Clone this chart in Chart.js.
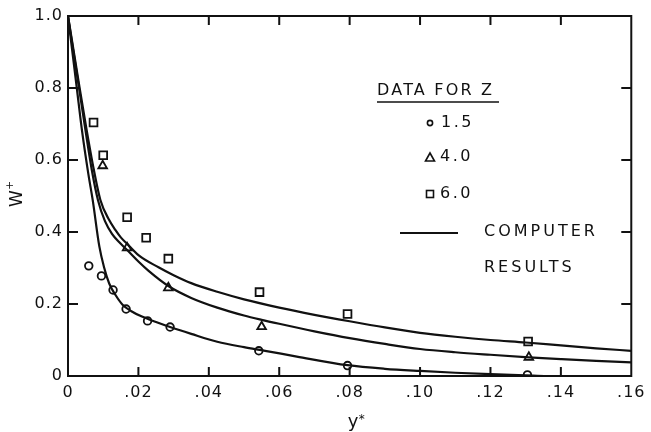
<!DOCTYPE html>
<html><head><meta charset="utf-8">
<script src="https://cdn.jsdelivr.net/npm/chart.js@4/dist/chart.umd.min.js"></script>
<style>html,body{margin:0;padding:0;background:#fff;}#wrap{width:651px;height:432px;}</style>
</head><body><div id="wrap"><canvas id="c" width="651" height="432"></canvas></div>
<script>
// ---- tick values / labels ----
const xTickValues = [0, 0.02, 0.04, 0.06, 0.08, 0.10, 0.12, 0.14, 0.16];
const xTickLabels = ['0', '.02', '.04', '.06', '.08', '.10', '.12', '.14', '.16'];
const yTickValues = [0, 0.2, 0.4, 0.6, 0.8, 1.0];
const yTickLabels = ['0', '0.2', '0.4', '0.6', '0.8', '1.0'];

// ---- measured data (Z = 1.5, 4.0, 6.0) ----
const z15X = [0.0059, 0.0095, 0.0128, 0.0165, 0.0226, 0.0290, 0.0542, 0.0794, 0.1305];
const z15Y = [0.306, 0.278, 0.239, 0.186, 0.153, 0.136, 0.070, 0.029, 0.003];
const z40X = [0.00985, 0.0168, 0.0285, 0.0550, 0.1309];
const z40Y = [0.584, 0.356, 0.245, 0.137, 0.052];
const z60X = [0.00725, 0.0100, 0.0168, 0.0222, 0.0285, 0.0544, 0.0794, 0.1307];
const z60Y = [0.704, 0.613, 0.441, 0.384, 0.326, 0.233, 0.172, 0.096];

// ---- computer results (curves) ----
const c15X = [0, 0.001, 0.0025, 0.004, 0.0058, 0.007, 0.0089, 0.0103, 0.0117, 0.0135, 0.0155, 0.018, 0.021, 0.025, 0.029, 0.035, 0.0424, 0.05, 0.056, 0.065, 0.0794, 0.09, 0.10, 0.11, 0.12, 0.13, 0.136, 0.16];
const c15Y = [1.0, 0.92, 0.80, 0.68, 0.56, 0.49, 0.36, 0.30, 0.257, 0.225, 0.198, 0.18, 0.165, 0.15, 0.136, 0.117, 0.095, 0.08, 0.07, 0.054, 0.03, 0.02, 0.014, 0.009, 0.005, 0.002, 0, 0];
const c40X = [0, 0.001, 0.0033, 0.005, 0.0068, 0.0085, 0.0105, 0.0125, 0.0145, 0.0168, 0.0200, 0.0229, 0.0285, 0.035, 0.0424, 0.05, 0.055, 0.06, 0.07, 0.08, 0.09, 0.10, 0.11, 0.12, 0.1309, 0.14, 0.15, 0.16];
const c40Y = [1.0, 0.935, 0.79, 0.68, 0.57, 0.489, 0.43, 0.395, 0.372, 0.35, 0.318, 0.292, 0.25, 0.217, 0.19, 0.168, 0.156, 0.145, 0.124, 0.105, 0.089, 0.075, 0.066, 0.059, 0.052, 0.047, 0.042, 0.038];
const c60X = [0, 0.001, 0.0033, 0.005, 0.007, 0.0092, 0.0117, 0.0135, 0.015, 0.0168, 0.0201, 0.0257, 0.0300, 0.035, 0.0424, 0.05, 0.06, 0.07, 0.08, 0.09, 0.10, 0.11, 0.12, 0.13, 0.14, 0.15, 0.16];
const c60Y = [1.0, 0.94, 0.80, 0.70, 0.59, 0.489, 0.433, 0.405, 0.385, 0.367, 0.335, 0.302, 0.28, 0.258, 0.234, 0.213, 0.19, 0.17, 0.152, 0.135, 0.12, 0.109, 0.10, 0.093, 0.085, 0.077, 0.07];

const seriesLabels = ['1.5', '4.0', '6.0'];
const legendTitle = 'DATA FOR Z';
const legendLine = ['COMPUTER', 'RESULTS'];
const xTitle = 'y';
const yTitle = 'W';

const pts = (xs, ys) => xs.map((x, i) => ({x: x, y: ys[i]}));
const INK = '#111';
const FONT = 'DejaVu Sans';

function curveDs(xs, ys) {
  return {type: 'line', data: pts(xs, ys), borderColor: INK, borderWidth: 2.2, pointRadius: 0,
    cubicInterpolationMode: 'monotone', fill: false, order: 2};
}
function markDs(label, xs, ys, style, r) {
  return {type: 'scatter', label: label, data: pts(xs, ys), pointStyle: style, pointRadius: r,
    pointBorderWidth: 1.8, borderColor: INK, backgroundColor: 'rgba(0,0,0,0)', showLine: false, order: 1};
}

const framePlugin = {
  id: 'frame',
  beforeDraw(chart) { chart.ctx.letterSpacing = '1px'; },
  afterDraw(chart) {
    const ctx = chart.ctx, a = chart.chartArea;
    const xs = chart.scales.x, ys = chart.scales.y;
    ctx.save();
    ctx.letterSpacing = '0px';
    ctx.strokeStyle = INK; ctx.lineWidth = 2;
    ctx.strokeRect(a.left, a.top, a.right - a.left, a.bottom - a.top);
    ctx.beginPath();
    xTickValues.forEach(v => {
      const p = xs.getPixelForValue(v);
      if (p <= a.left + 1 || p >= a.right - 1) return;
      ctx.moveTo(p, a.bottom); ctx.lineTo(p, a.bottom - 9);
      ctx.moveTo(p, a.top); ctx.lineTo(p, a.top + 9);
    });
    yTickValues.forEach(v => {
      const p = ys.getPixelForValue(v);
      if (p >= a.bottom - 1 || p <= a.top + 1) return;
      ctx.moveTo(a.left, p); ctx.lineTo(a.left + 10, p);
      ctx.moveTo(a.right, p); ctx.lineTo(a.right - 10, p);
    });
    ctx.stroke();

    // axis titles
    ctx.fillStyle = INK;
    ctx.textBaseline = 'alphabetic';
    ctx.font = '18px "' + FONT + '"';
    ctx.textAlign = 'left';
    const cx = (a.left + a.right) / 2;
    ctx.fillText(xTitle, cx - 2, 427);
    ctx.font = '12px "' + FONT + '"';
    ctx.fillText('*', cx + 9, 423);

    ctx.save();
    ctx.translate(22, 207);
    ctx.rotate(-Math.PI / 2);
    ctx.font = '17px "' + FONT + '"';
    ctx.fillText(yTitle, 0, 0);
    ctx.font = '11px "' + FONT + '"';
    ctx.fillText('+', 17, -9);
    ctx.restore();

    // legend
    ctx.font = '16px "' + FONT + '"';
    ctx.textBaseline = 'middle';
    ctx.letterSpacing = '2.2px';
    ctx.fillText(legendTitle, 377, 91);
    ctx.lineWidth = 1.5;
    ctx.beginPath(); ctx.moveTo(377, 102); ctx.lineTo(499, 102); ctx.stroke();

    ctx.letterSpacing = '2.5px';
    ctx.fillText(seriesLabels[0], 441, 123);
    ctx.fillText(seriesLabels[1], 440, 157);
    ctx.fillText(seriesLabels[2], 440, 194);
    ctx.letterSpacing = '3px';
    ctx.fillText(legendLine[0], 484, 232);
    ctx.fillText(legendLine[1], 484, 268);

    ctx.lineWidth = 1.6;
    ctx.beginPath(); ctx.arc(430, 123, 2.6, 0, Math.PI * 2); ctx.stroke();
    ctx.beginPath(); ctx.moveTo(430, 153); ctx.lineTo(434.5, 161); ctx.lineTo(425.5, 161); ctx.closePath(); ctx.stroke();
    ctx.strokeRect(426.5, 190.5, 7, 7);
    ctx.lineWidth = 2;
    ctx.beginPath(); ctx.moveTo(400, 233); ctx.lineTo(458, 233); ctx.stroke();
    ctx.restore();
  }
};

new Chart(document.getElementById('c'), {
  data: {
    datasets: [
      curveDs(c15X, c15Y), curveDs(c40X, c40Y), curveDs(c60X, c60Y),
      markDs(seriesLabels[0], z15X, z15Y, 'circle', 3.8),
      markDs(seriesLabels[1], z40X, z40Y, 'triangle', 5),
      markDs(seriesLabels[2], z60X, z60Y, 'rect', 5.5)
    ]
  },
  options: {
    responsive: false, animation: false, devicePixelRatio: 1,
    layout: {padding: {top: 16, right: 10, left: 0, bottom: 0}},
    plugins: {legend: {display: false}, tooltip: {enabled: false}},
    scales: {
      x: {
        type: 'linear', min: 0, max: 0.16,
        afterBuildTicks: s => { s.ticks = xTickValues.map(v => ({value: v})); },
        afterFit: s => { s.height = 56; },
        grid: {display: false, drawTicks: false, tickLength: 0}, border: {display: false},
        ticks: {padding: 7, color: INK, font: {family: FONT, size: 16}, maxRotation: 0, autoSkip: false,
          callback: (v, i) => xTickLabels[i]}
      },
      y: {
        type: 'linear', min: 0, max: 1.0,
        afterBuildTicks: s => { s.ticks = yTickValues.map(v => ({value: v})); },
        afterFit: s => { s.width = 68; },
        grid: {display: false, drawTicks: false, tickLength: 0}, border: {display: false},
        ticks: {padding: 5, color: INK, font: {family: FONT, size: 16}, autoSkip: false,
          callback: (v, i) => yTickLabels[i]}
      }
    }
  },
  plugins: [framePlugin]
});
</script>
</body></html>
